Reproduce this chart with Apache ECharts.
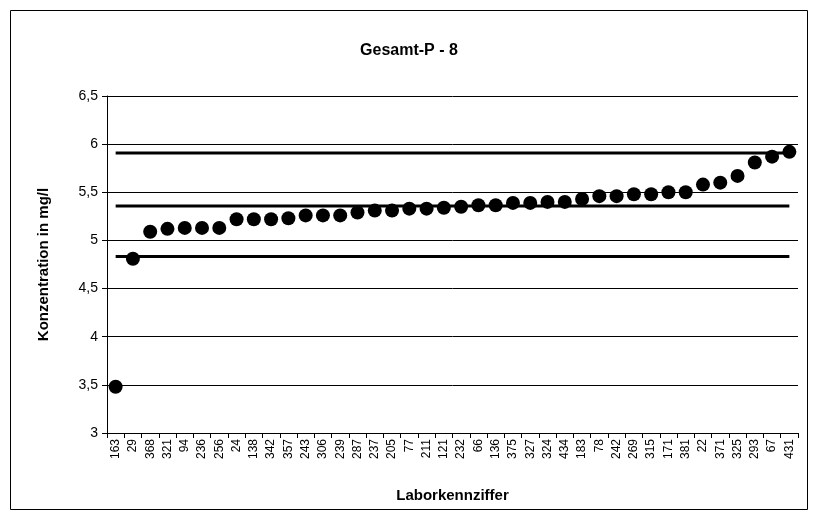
<!DOCTYPE html>
<html>
<head>
<meta charset="utf-8">
<script src="https://cdn.jsdelivr.net/npm/echarts@6/dist/echarts.min.js"></script>
<style>
html,body{margin:0;padding:0;background:#fff;}
#c{width:818px;height:520px;}
</style>
</head>
<body>
<div id="c"></div>
<script>
const labs = ['163','29','368','321','94','236','256','24','138','342','357','243','306','239','287','237','205','77','211','121','232','66','136','375','327','324','434','183','78','242','269','315','171','381','22','371','325','293','67','431'];
const values = [3.48,4.81,5.09,5.12,5.13,5.13,5.13,5.22,5.22,5.22,5.23,5.26,5.26,5.26,5.29,5.31,5.31,5.33,5.33,5.34,5.35,5.365,5.365,5.39,5.39,5.40,5.40,5.43,5.46,5.46,5.48,5.48,5.50,5.50,5.58,5.60,5.67,5.81,5.87,5.92];
const upperLimit = 5.907;
const meanValue = 5.358;
const lowerLimit = 4.834;
const yTicks = {min: 3, max: 6.5, interval: 0.5};
const titleText = 'Gesamt-P - 8';
const xName = 'Laborkennziffer';
const yName = 'Konzentration in mg/l';

const chart = echarts.init(document.getElementById('c'), null, {renderer: 'canvas'});
const F = 'Liberation Sans, Arial, sans-serif';
function constLine(v){ return labs.map(() => v); }
function lineSeries(v, w){
  return {type:'line', data: constLine(v), symbol:'none', silent:true,
    lineStyle:{color:'#000', width:w}, z:2, animation:false};
}
chart.setOption({
  animation:false,
  backgroundColor:'#fff',
  graphic:[{type:'rect', shape:{x:10.5,y:10.5,width:797,height:499}, style:{fill:'none', stroke:'#000', lineWidth:1}, z:-1}],
  title:{text:titleText, left:'center', top:38, textStyle:{fontFamily:F, fontSize:16, fontWeight:'bold', color:'#000'}},
  grid:{left:107, top:96, right:20, bottom:87, containLabel:false},
  xAxis:{type:'category', data:labs, boundaryGap:true,
    name:xName, nameLocation:'middle', nameGap:55,
    nameTextStyle:{fontFamily:F, fontSize:15, fontWeight:'bold', color:'#000'},
    axisLine:{lineStyle:{color:'#000', width:1}},
    axisTick:{show:true, length:5, lineStyle:{color:'#000'}},
    axisLabel:{rotate:90, interval:0, fontFamily:F, fontSize:12, color:'#000', margin:6},
    splitLine:{show:false}},
  yAxis:{type:'value', min:yTicks.min, max:yTicks.max, interval:yTicks.interval,
    name:yName, nameLocation:'middle', nameGap:56,
    nameTextStyle:{fontFamily:F, fontSize:15, fontWeight:'bold', color:'#000'},
    axisLine:{show:true, lineStyle:{color:'#000', width:1}},
    axisTick:{show:true, length:5, lineStyle:{color:'#000'}},
    axisLabel:{fontFamily:F, fontSize:14, color:'#000', margin:9,
      formatter: v => String(v).replace('.', ',')},
    splitLine:{show:true, lineStyle:{color:'#000', width:1}}},
  series:[
    lineSeries(upperLimit, 3),
    lineSeries(meanValue, 3),
    lineSeries(lowerLimit, 3),
    {type:'scatter', data:values, symbol:'circle', symbolSize:14,
      itemStyle:{color:'#000', opacity:1}, z:3}
  ]
});
</script>
</body>
</html>
